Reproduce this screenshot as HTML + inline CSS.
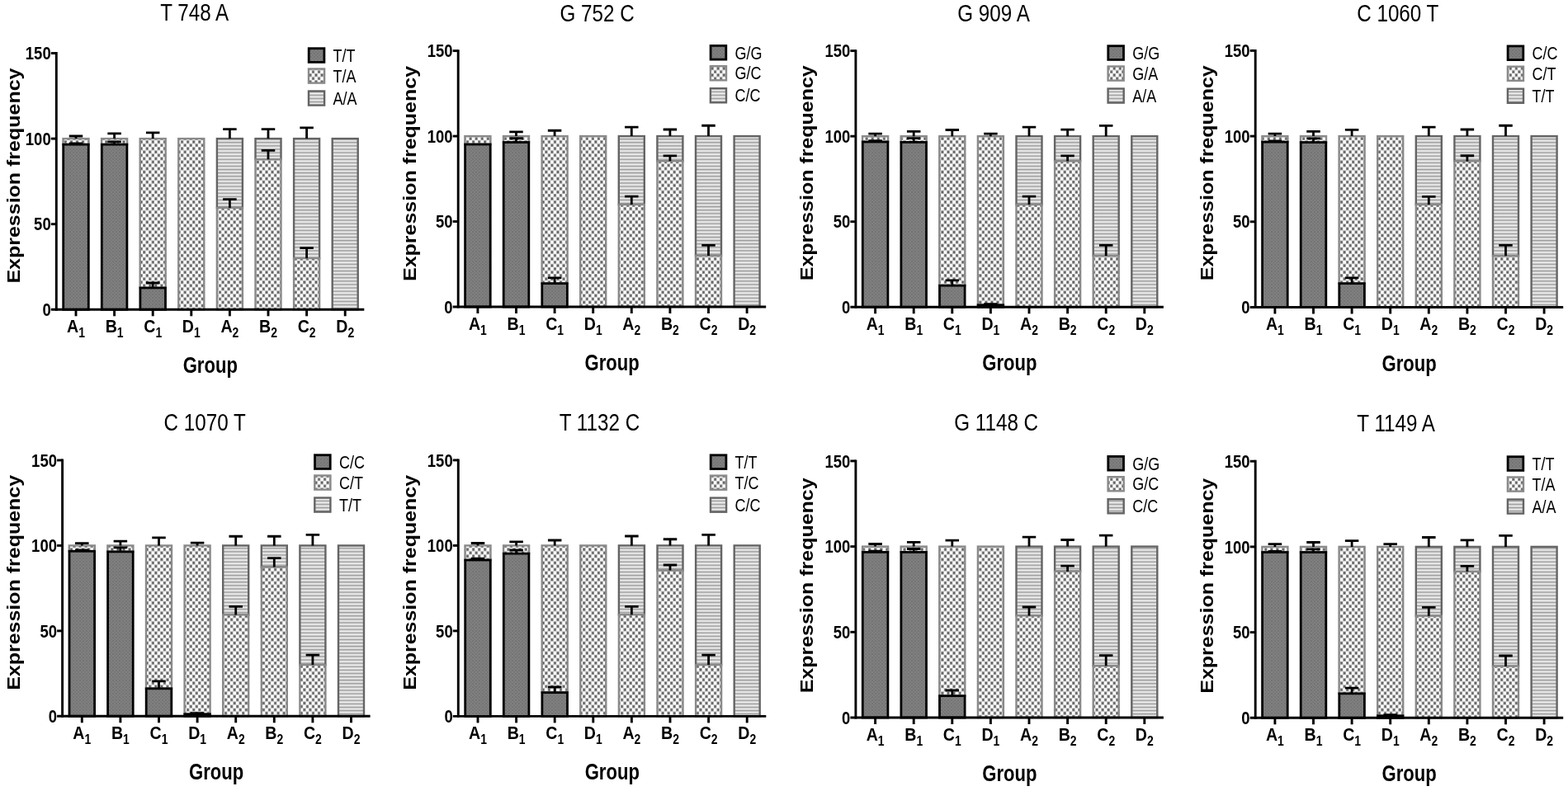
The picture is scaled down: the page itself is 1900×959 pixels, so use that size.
<!DOCTYPE html>
<html><head><meta charset="utf-8"><title>Genotype expression frequency</title>
<style>
html,body{margin:0;padding:0;background:#fff;overflow:hidden;}
svg{display:block;}
text{font-family:"Liberation Sans",Arial,sans-serif;fill:#000;}
</style></head><body>
<svg width="1900" height="959" viewBox="0 0 1900 959">
<rect width="1900" height="959" fill="#fff"/>
<defs>
<pattern id="pd" patternUnits="userSpaceOnUse" width="4" height="4">
<rect width="4" height="4" fill="#808080"/><rect width="2" height="2" fill="#747474"/><rect x="2" y="2" width="2" height="2" fill="#787878"/>
</pattern>
<pattern id="pc" patternUnits="userSpaceOnUse" width="7.06" height="8.1">
<rect width="7.06" height="8.1" fill="#fff"/>
<rect x="0" y="0" width="3.53" height="4.05" fill="#a4a4a4"/><rect x="3.53" y="4.05" width="3.53" height="4.05" fill="#a4a4a4"/>
<rect x="0.65" y="0.72" width="2.23" height="2.6" rx="0.6" fill="#5e5e5e"/><rect x="4.18" y="4.77" width="2.23" height="2.6" rx="0.6" fill="#5e5e5e"/>
</pattern>
<pattern id="ps" patternUnits="userSpaceOnUse" width="8" height="4.1">
<rect width="8" height="4.1" fill="#cbcbcb"/><rect y="0" width="8" height="1.1" fill="#9e9e9e"/><rect y="2.0" width="8" height="1.3" fill="#f0f0f0"/>
</pattern>
</defs>
<rect x="76.5" y="168.1" width="31" height="7.04" fill="url(#pc)" stroke="#8a8a8a" stroke-width="2.4"/>
<rect x="76.7" y="175.14" width="30.6" height="200.16" fill="url(#pd)" stroke="#000" stroke-width="2.8"/>
<path d="M92 175.14V173.9M83.75 173.9H100.25" stroke="#000" stroke-width="2.8" fill="none"/>
<path d="M92 168.1V164.99M83.75 164.99H100.25" stroke="#000" stroke-width="2.8" fill="none"/>
<rect x="123.1" y="168.1" width="31" height="7.04" fill="url(#pc)" stroke="#8a8a8a" stroke-width="2.4"/>
<rect x="123.3" y="175.14" width="30.6" height="200.16" fill="url(#pd)" stroke="#000" stroke-width="2.8"/>
<path d="M138.6 175.14V171.83M130.35 171.83H146.85" stroke="#000" stroke-width="2.8" fill="none"/>
<path d="M138.6 168.1V161.88M130.35 161.88H146.85" stroke="#000" stroke-width="2.8" fill="none"/>
<rect x="169.7" y="168.1" width="31" height="180.89" fill="url(#pc)" stroke="#8a8a8a" stroke-width="2.4"/>
<rect x="169.9" y="348.99" width="30.6" height="26.31" fill="url(#pd)" stroke="#000" stroke-width="2.8"/>
<path d="M185.2 348.99V342.98M176.95 342.98H193.45" stroke="#000" stroke-width="2.8" fill="none"/>
<path d="M185.2 168.1V160.85M176.95 160.85H193.45" stroke="#000" stroke-width="2.8" fill="none"/>
<rect x="216.3" y="168.1" width="31" height="207.2" fill="url(#pc)" stroke="#8a8a8a" stroke-width="2.4"/>
<rect x="262.9" y="168.1" width="31" height="83.92" fill="url(#ps)" stroke="#646464" stroke-width="2.4"/>
<rect x="262.9" y="252.02" width="31" height="123.28" fill="url(#pc)" stroke="#8a8a8a" stroke-width="2.4"/>
<path d="M278.4 252.02V241.66M270.15 241.66H286.65" stroke="#000" stroke-width="2.8" fill="none"/>
<path d="M278.4 168.1V156.7M270.15 156.7H286.65" stroke="#000" stroke-width="2.8" fill="none"/>
<rect x="309.5" y="168.1" width="31" height="25.07" fill="url(#ps)" stroke="#646464" stroke-width="2.4"/>
<rect x="309.5" y="193.17" width="31" height="182.13" fill="url(#pc)" stroke="#8a8a8a" stroke-width="2.4"/>
<path d="M325 193.17V182.4M316.75 182.4H333.25" stroke="#000" stroke-width="2.8" fill="none"/>
<path d="M325 168.1V156.7M316.75 156.7H333.25" stroke="#000" stroke-width="2.8" fill="none"/>
<rect x="356.1" y="168.1" width="31" height="145.04" fill="url(#ps)" stroke="#646464" stroke-width="2.4"/>
<rect x="356.1" y="313.14" width="31" height="62.16" fill="url(#pc)" stroke="#8a8a8a" stroke-width="2.4"/>
<path d="M371.6 313.14V300.71M363.35 300.71H379.85" stroke="#000" stroke-width="2.8" fill="none"/>
<path d="M371.6 168.1V154.84M363.35 154.84H379.85" stroke="#000" stroke-width="2.8" fill="none"/>
<rect x="402.7" y="168.1" width="31" height="207.2" fill="url(#ps)" stroke="#646464" stroke-width="2.4"/>
<path d="M61.8 375.3H441.3" stroke="#000" stroke-width="2.9" fill="none"/>
<path d="M68.3 376.75V63.05" stroke="#000" stroke-width="2.9" fill="none"/>
<path d="M61.8 271.7H68.3" stroke="#000" stroke-width="2.9" fill="none"/>
<path d="M61.8 168.1H68.3" stroke="#000" stroke-width="2.9" fill="none"/>
<path d="M61.8 64.5H68.3" stroke="#000" stroke-width="2.9" fill="none"/>
<path d="M92 375.3V383.3" stroke="#000" stroke-width="2.9" fill="none"/>
<path d="M138.6 375.3V383.3" stroke="#000" stroke-width="2.9" fill="none"/>
<path d="M185.2 375.3V383.3" stroke="#000" stroke-width="2.9" fill="none"/>
<path d="M231.8 375.3V383.3" stroke="#000" stroke-width="2.9" fill="none"/>
<path d="M278.4 375.3V383.3" stroke="#000" stroke-width="2.9" fill="none"/>
<path d="M325 375.3V383.3" stroke="#000" stroke-width="2.9" fill="none"/>
<path d="M371.6 375.3V383.3" stroke="#000" stroke-width="2.9" fill="none"/>
<path d="M418.2 375.3V383.3" stroke="#000" stroke-width="2.9" fill="none"/>
<text transform="translate(61.7 382.94) scale(0.835 1)" font-size="22.2" font-weight="bold" text-anchor="end">0</text>
<text transform="translate(61.7 279.34) scale(0.835 1)" font-size="22.2" font-weight="bold" text-anchor="end">50</text>
<text transform="translate(61.7 175.74) scale(0.835 1)" font-size="22.2" font-weight="bold" text-anchor="end">100</text>
<text transform="translate(61.7 72.14) scale(0.835 1)" font-size="22.2" font-weight="bold" text-anchor="end">150</text>
<text transform="translate(92 403.2) scale(0.87 1)" font-size="22.5" font-weight="bold" text-anchor="middle">A<tspan font-size="16.0" dy="5.8">1</tspan></text>
<text transform="translate(138.6 403.2) scale(0.87 1)" font-size="22.5" font-weight="bold" text-anchor="middle">B<tspan font-size="16.0" dy="5.8">1</tspan></text>
<text transform="translate(185.2 403.2) scale(0.87 1)" font-size="22.5" font-weight="bold" text-anchor="middle">C<tspan font-size="16.0" dy="5.8">1</tspan></text>
<text transform="translate(231.8 403.2) scale(0.87 1)" font-size="22.5" font-weight="bold" text-anchor="middle">D<tspan font-size="16.0" dy="5.8">1</tspan></text>
<text transform="translate(278.4 403.2) scale(0.87 1)" font-size="22.5" font-weight="bold" text-anchor="middle">A<tspan font-size="16.0" dy="5.8">2</tspan></text>
<text transform="translate(325 403.2) scale(0.87 1)" font-size="22.5" font-weight="bold" text-anchor="middle">B<tspan font-size="16.0" dy="5.8">2</tspan></text>
<text transform="translate(371.6 403.2) scale(0.87 1)" font-size="22.5" font-weight="bold" text-anchor="middle">C<tspan font-size="16.0" dy="5.8">2</tspan></text>
<text transform="translate(418.2 403.2) scale(0.87 1)" font-size="22.5" font-weight="bold" text-anchor="middle">D<tspan font-size="16.0" dy="5.8">2</tspan></text>
<text transform="translate(254.8 452.3) scale(0.818 1)" font-size="27.0" font-weight="bold" text-anchor="middle">Group</text>
<text transform="translate(24.1 213.05) rotate(-90) scale(1 0.88)" font-size="25.0" font-weight="bold" text-anchor="middle">Expression frequency</text>
<text transform="translate(235.75 25) scale(0.835 1)" font-size="29.0" font-weight="normal" text-anchor="middle">T 748 A</text>
<rect x="374.2" y="58.7" width="18.7" height="16.7" fill="url(#pd)" stroke="#000" stroke-width="2.8"/>
<text transform="translate(403.6 75) scale(0.8 1)" font-size="22.5" font-weight="normal" text-anchor="start">T/T</text>
<rect x="374" y="83.5" width="19.1" height="17.1" fill="url(#pc)" stroke="#8a8a8a" stroke-width="2.4"/>
<text transform="translate(403.6 99.6) scale(0.8 1)" font-size="22.5" font-weight="normal" text-anchor="start">T/A</text>
<rect x="374" y="110.5" width="19.1" height="17.1" fill="url(#ps)" stroke="#646464" stroke-width="2.4"/>
<text transform="translate(403.6 126.6) scale(0.8 1)" font-size="22.5" font-weight="normal" text-anchor="start">A/A</text>
<rect x="563.4" y="165.07" width="31" height="9.93" fill="url(#pc)" stroke="#8a8a8a" stroke-width="2.4"/>
<rect x="563.6" y="175" width="30.6" height="197" fill="url(#pd)" stroke="#000" stroke-width="2.8"/>
<rect x="610" y="165.07" width="31" height="7.45" fill="url(#pc)" stroke="#8a8a8a" stroke-width="2.4"/>
<rect x="610.2" y="172.52" width="30.6" height="199.48" fill="url(#pd)" stroke="#000" stroke-width="2.8"/>
<path d="M625.5 172.52V167.76M617.25 167.76H633.75" stroke="#000" stroke-width="2.8" fill="none"/>
<path d="M625.5 165.07V159.89M617.25 159.89H633.75" stroke="#000" stroke-width="2.8" fill="none"/>
<rect x="656.6" y="165.07" width="31" height="178.58" fill="url(#pc)" stroke="#8a8a8a" stroke-width="2.4"/>
<rect x="656.8" y="343.65" width="30.6" height="28.35" fill="url(#pd)" stroke="#000" stroke-width="2.8"/>
<path d="M672.1 343.65V336.82M663.85 336.82H680.35" stroke="#000" stroke-width="2.8" fill="none"/>
<path d="M672.1 165.07V158.24M663.85 158.24H680.35" stroke="#000" stroke-width="2.8" fill="none"/>
<rect x="703.2" y="165.07" width="31" height="206.93" fill="url(#pc)" stroke="#8a8a8a" stroke-width="2.4"/>
<rect x="749.8" y="165.07" width="31" height="82.98" fill="url(#ps)" stroke="#646464" stroke-width="2.4"/>
<rect x="749.8" y="248.05" width="31" height="123.95" fill="url(#pc)" stroke="#8a8a8a" stroke-width="2.4"/>
<path d="M765.3 248.05V238.11M757.05 238.11H773.55" stroke="#000" stroke-width="2.8" fill="none"/>
<path d="M765.3 165.07V154.1M757.05 154.1H773.55" stroke="#000" stroke-width="2.8" fill="none"/>
<rect x="796.4" y="165.07" width="31" height="30.21" fill="url(#ps)" stroke="#646464" stroke-width="2.4"/>
<rect x="796.4" y="195.28" width="31" height="176.72" fill="url(#pc)" stroke="#8a8a8a" stroke-width="2.4"/>
<path d="M811.9 195.28V188.86M803.65 188.86H820.15" stroke="#000" stroke-width="2.8" fill="none"/>
<path d="M811.9 165.07V157M803.65 157H820.15" stroke="#000" stroke-width="2.8" fill="none"/>
<rect x="843" y="165.07" width="31" height="144.85" fill="url(#ps)" stroke="#646464" stroke-width="2.4"/>
<rect x="843" y="309.92" width="31" height="62.08" fill="url(#pc)" stroke="#8a8a8a" stroke-width="2.4"/>
<path d="M858.5 309.92V297.3M850.25 297.3H866.75" stroke="#000" stroke-width="2.8" fill="none"/>
<path d="M858.5 165.07V152.24M850.25 152.24H866.75" stroke="#000" stroke-width="2.8" fill="none"/>
<rect x="889.6" y="165.07" width="31" height="206.93" fill="url(#ps)" stroke="#646464" stroke-width="2.4"/>
<path d="M548.7 372H928.2" stroke="#000" stroke-width="2.9" fill="none"/>
<path d="M555.2 373.45V60.15" stroke="#000" stroke-width="2.9" fill="none"/>
<path d="M548.7 268.53H555.2" stroke="#000" stroke-width="2.9" fill="none"/>
<path d="M548.7 165.07H555.2" stroke="#000" stroke-width="2.9" fill="none"/>
<path d="M548.7 61.6H555.2" stroke="#000" stroke-width="2.9" fill="none"/>
<path d="M578.9 372V380" stroke="#000" stroke-width="2.9" fill="none"/>
<path d="M625.5 372V380" stroke="#000" stroke-width="2.9" fill="none"/>
<path d="M672.1 372V380" stroke="#000" stroke-width="2.9" fill="none"/>
<path d="M718.7 372V380" stroke="#000" stroke-width="2.9" fill="none"/>
<path d="M765.3 372V380" stroke="#000" stroke-width="2.9" fill="none"/>
<path d="M811.9 372V380" stroke="#000" stroke-width="2.9" fill="none"/>
<path d="M858.5 372V380" stroke="#000" stroke-width="2.9" fill="none"/>
<path d="M905.1 372V380" stroke="#000" stroke-width="2.9" fill="none"/>
<text transform="translate(548.6 379.64) scale(0.835 1)" font-size="22.2" font-weight="bold" text-anchor="end">0</text>
<text transform="translate(548.6 276.17) scale(0.835 1)" font-size="22.2" font-weight="bold" text-anchor="end">50</text>
<text transform="translate(548.6 172.7) scale(0.835 1)" font-size="22.2" font-weight="bold" text-anchor="end">100</text>
<text transform="translate(548.6 69.24) scale(0.835 1)" font-size="22.2" font-weight="bold" text-anchor="end">150</text>
<text transform="translate(578.9 399.9) scale(0.87 1)" font-size="22.5" font-weight="bold" text-anchor="middle">A<tspan font-size="16.0" dy="5.8">1</tspan></text>
<text transform="translate(625.5 399.9) scale(0.87 1)" font-size="22.5" font-weight="bold" text-anchor="middle">B<tspan font-size="16.0" dy="5.8">1</tspan></text>
<text transform="translate(672.1 399.9) scale(0.87 1)" font-size="22.5" font-weight="bold" text-anchor="middle">C<tspan font-size="16.0" dy="5.8">1</tspan></text>
<text transform="translate(718.7 399.9) scale(0.87 1)" font-size="22.5" font-weight="bold" text-anchor="middle">D<tspan font-size="16.0" dy="5.8">1</tspan></text>
<text transform="translate(765.3 399.9) scale(0.87 1)" font-size="22.5" font-weight="bold" text-anchor="middle">A<tspan font-size="16.0" dy="5.8">2</tspan></text>
<text transform="translate(811.9 399.9) scale(0.87 1)" font-size="22.5" font-weight="bold" text-anchor="middle">B<tspan font-size="16.0" dy="5.8">2</tspan></text>
<text transform="translate(858.5 399.9) scale(0.87 1)" font-size="22.5" font-weight="bold" text-anchor="middle">C<tspan font-size="16.0" dy="5.8">2</tspan></text>
<text transform="translate(905.1 399.9) scale(0.87 1)" font-size="22.5" font-weight="bold" text-anchor="middle">D<tspan font-size="16.0" dy="5.8">2</tspan></text>
<text transform="translate(741.7 449) scale(0.818 1)" font-size="27.0" font-weight="bold" text-anchor="middle">Group</text>
<text transform="translate(503.6 210.45) rotate(-90) scale(1 0.88)" font-size="25.0" font-weight="bold" text-anchor="middle">Expression frequency</text>
<text transform="translate(723.6 25.9) scale(0.835 1)" font-size="29.0" font-weight="normal" text-anchor="middle">G 752 C</text>
<rect x="861.1" y="55.4" width="18.7" height="16.7" fill="url(#pd)" stroke="#000" stroke-width="2.8"/>
<text transform="translate(890.5 71.7) scale(0.8 1)" font-size="22.5" font-weight="normal" text-anchor="start">G/G</text>
<rect x="860.9" y="80.2" width="19.1" height="17.1" fill="url(#pc)" stroke="#8a8a8a" stroke-width="2.4"/>
<text transform="translate(890.5 96.3) scale(0.8 1)" font-size="22.5" font-weight="normal" text-anchor="start">G/C</text>
<rect x="860.9" y="107.2" width="19.1" height="17.1" fill="url(#ps)" stroke="#646464" stroke-width="2.4"/>
<text transform="translate(890.5 123.3) scale(0.8 1)" font-size="22.5" font-weight="normal" text-anchor="start">C/C</text>
<rect x="1045.1" y="165.17" width="31" height="6.84" fill="url(#pc)" stroke="#8a8a8a" stroke-width="2.4"/>
<rect x="1045.3" y="172" width="30.6" height="200.3" fill="url(#pd)" stroke="#000" stroke-width="2.8"/>
<path d="M1060.6 172V170.76M1052.35 170.76H1068.85" stroke="#000" stroke-width="2.8" fill="none"/>
<path d="M1060.6 165.17V162.06M1052.35 162.06H1068.85" stroke="#000" stroke-width="2.8" fill="none"/>
<rect x="1091.7" y="165.17" width="31" height="7.25" fill="url(#pc)" stroke="#8a8a8a" stroke-width="2.4"/>
<rect x="1091.9" y="172.42" width="30.6" height="199.88" fill="url(#pd)" stroke="#000" stroke-width="2.8"/>
<path d="M1107.2 172.42V167.65M1098.95 167.65H1115.45" stroke="#000" stroke-width="2.8" fill="none"/>
<path d="M1107.2 165.17V159.37M1098.95 159.37H1115.45" stroke="#000" stroke-width="2.8" fill="none"/>
<rect x="1138.3" y="165.17" width="31" height="181.03" fill="url(#pc)" stroke="#8a8a8a" stroke-width="2.4"/>
<rect x="1138.5" y="346.2" width="30.6" height="26.1" fill="url(#pd)" stroke="#000" stroke-width="2.8"/>
<path d="M1153.8 346.2V339.78M1145.55 339.78H1162.05" stroke="#000" stroke-width="2.8" fill="none"/>
<path d="M1153.8 165.17V157.5M1145.55 157.5H1162.05" stroke="#000" stroke-width="2.8" fill="none"/>
<rect x="1184.9" y="165.17" width="31" height="204.65" fill="url(#pc)" stroke="#8a8a8a" stroke-width="2.4"/>
<rect x="1185.1" y="369.81" width="30.6" height="2.49" fill="url(#pd)" stroke="#000" stroke-width="2.8"/>
<path d="M1200.4 369.81V368.57M1192.15 368.57H1208.65" stroke="#000" stroke-width="2.8" fill="none"/>
<path d="M1200.4 165.17V162.06M1192.15 162.06H1208.65" stroke="#000" stroke-width="2.8" fill="none"/>
<rect x="1231.5" y="165.17" width="31" height="82.85" fill="url(#ps)" stroke="#646464" stroke-width="2.4"/>
<rect x="1231.5" y="248.02" width="31" height="124.28" fill="url(#pc)" stroke="#8a8a8a" stroke-width="2.4"/>
<path d="M1247 248.02V238.08M1238.75 238.08H1255.25" stroke="#000" stroke-width="2.8" fill="none"/>
<path d="M1247 165.17V154.19M1238.75 154.19H1255.25" stroke="#000" stroke-width="2.8" fill="none"/>
<rect x="1278.1" y="165.17" width="31" height="30.24" fill="url(#ps)" stroke="#646464" stroke-width="2.4"/>
<rect x="1278.1" y="195.41" width="31" height="176.89" fill="url(#pc)" stroke="#8a8a8a" stroke-width="2.4"/>
<path d="M1293.6 195.41V188.78M1285.35 188.78H1301.85" stroke="#000" stroke-width="2.8" fill="none"/>
<path d="M1293.6 165.17V157.09M1285.35 157.09H1301.85" stroke="#000" stroke-width="2.8" fill="none"/>
<rect x="1324.7" y="165.17" width="31" height="144.99" fill="url(#ps)" stroke="#646464" stroke-width="2.4"/>
<rect x="1324.7" y="310.16" width="31" height="62.14" fill="url(#pc)" stroke="#8a8a8a" stroke-width="2.4"/>
<path d="M1340.2 310.16V297.32M1331.95 297.32H1348.45" stroke="#000" stroke-width="2.8" fill="none"/>
<path d="M1340.2 165.17V152.32M1331.95 152.32H1348.45" stroke="#000" stroke-width="2.8" fill="none"/>
<rect x="1371.3" y="165.17" width="31" height="207.13" fill="url(#ps)" stroke="#646464" stroke-width="2.4"/>
<path d="M1030.4 372.3H1409.9" stroke="#000" stroke-width="2.9" fill="none"/>
<path d="M1036.9 373.75V60.15" stroke="#000" stroke-width="2.9" fill="none"/>
<path d="M1030.4 268.73H1036.9" stroke="#000" stroke-width="2.9" fill="none"/>
<path d="M1030.4 165.17H1036.9" stroke="#000" stroke-width="2.9" fill="none"/>
<path d="M1030.4 61.6H1036.9" stroke="#000" stroke-width="2.9" fill="none"/>
<path d="M1060.6 372.3V380.3" stroke="#000" stroke-width="2.9" fill="none"/>
<path d="M1107.2 372.3V380.3" stroke="#000" stroke-width="2.9" fill="none"/>
<path d="M1153.8 372.3V380.3" stroke="#000" stroke-width="2.9" fill="none"/>
<path d="M1200.4 372.3V380.3" stroke="#000" stroke-width="2.9" fill="none"/>
<path d="M1247 372.3V380.3" stroke="#000" stroke-width="2.9" fill="none"/>
<path d="M1293.6 372.3V380.3" stroke="#000" stroke-width="2.9" fill="none"/>
<path d="M1340.2 372.3V380.3" stroke="#000" stroke-width="2.9" fill="none"/>
<path d="M1386.8 372.3V380.3" stroke="#000" stroke-width="2.9" fill="none"/>
<text transform="translate(1030.3 379.94) scale(0.835 1)" font-size="22.2" font-weight="bold" text-anchor="end">0</text>
<text transform="translate(1030.3 276.37) scale(0.835 1)" font-size="22.2" font-weight="bold" text-anchor="end">50</text>
<text transform="translate(1030.3 172.8) scale(0.835 1)" font-size="22.2" font-weight="bold" text-anchor="end">100</text>
<text transform="translate(1030.3 69.24) scale(0.835 1)" font-size="22.2" font-weight="bold" text-anchor="end">150</text>
<text transform="translate(1060.6 400.2) scale(0.87 1)" font-size="22.5" font-weight="bold" text-anchor="middle">A<tspan font-size="16.0" dy="5.8">1</tspan></text>
<text transform="translate(1107.2 400.2) scale(0.87 1)" font-size="22.5" font-weight="bold" text-anchor="middle">B<tspan font-size="16.0" dy="5.8">1</tspan></text>
<text transform="translate(1153.8 400.2) scale(0.87 1)" font-size="22.5" font-weight="bold" text-anchor="middle">C<tspan font-size="16.0" dy="5.8">1</tspan></text>
<text transform="translate(1200.4 400.2) scale(0.87 1)" font-size="22.5" font-weight="bold" text-anchor="middle">D<tspan font-size="16.0" dy="5.8">1</tspan></text>
<text transform="translate(1247 400.2) scale(0.87 1)" font-size="22.5" font-weight="bold" text-anchor="middle">A<tspan font-size="16.0" dy="5.8">2</tspan></text>
<text transform="translate(1293.6 400.2) scale(0.87 1)" font-size="22.5" font-weight="bold" text-anchor="middle">B<tspan font-size="16.0" dy="5.8">2</tspan></text>
<text transform="translate(1340.2 400.2) scale(0.87 1)" font-size="22.5" font-weight="bold" text-anchor="middle">C<tspan font-size="16.0" dy="5.8">2</tspan></text>
<text transform="translate(1386.8 400.2) scale(0.87 1)" font-size="22.5" font-weight="bold" text-anchor="middle">D<tspan font-size="16.0" dy="5.8">2</tspan></text>
<text transform="translate(1223.4 449.3) scale(0.818 1)" font-size="27.0" font-weight="bold" text-anchor="middle">Group</text>
<text transform="translate(985.4 209.75) rotate(-90) scale(1 0.88)" font-size="25.0" font-weight="bold" text-anchor="middle">Expression frequency</text>
<text transform="translate(1204.05 25.9) scale(0.835 1)" font-size="29.0" font-weight="normal" text-anchor="middle">G 909 A</text>
<rect x="1342.8" y="55.7" width="18.7" height="16.7" fill="url(#pd)" stroke="#000" stroke-width="2.8"/>
<text transform="translate(1372.2 72) scale(0.8 1)" font-size="22.5" font-weight="normal" text-anchor="start">G/G</text>
<rect x="1342.6" y="80.5" width="19.1" height="17.1" fill="url(#pc)" stroke="#8a8a8a" stroke-width="2.4"/>
<text transform="translate(1372.2 96.6) scale(0.8 1)" font-size="22.5" font-weight="normal" text-anchor="start">G/A</text>
<rect x="1342.6" y="107.5" width="19.1" height="17.1" fill="url(#ps)" stroke="#646464" stroke-width="2.4"/>
<text transform="translate(1372.2 123.6) scale(0.8 1)" font-size="22.5" font-weight="normal" text-anchor="start">A/A</text>
<rect x="1529.4" y="165.1" width="31" height="7.05" fill="url(#pc)" stroke="#8a8a8a" stroke-width="2.4"/>
<rect x="1529.6" y="172.15" width="30.6" height="200.35" fill="url(#pd)" stroke="#000" stroke-width="2.8"/>
<path d="M1544.9 172.15V170.91M1536.65 170.91H1553.15" stroke="#000" stroke-width="2.8" fill="none"/>
<path d="M1544.9 165.1V162.2M1536.65 162.2H1553.15" stroke="#000" stroke-width="2.8" fill="none"/>
<rect x="1576" y="165.1" width="31" height="7.47" fill="url(#pc)" stroke="#8a8a8a" stroke-width="2.4"/>
<rect x="1576.2" y="172.57" width="30.6" height="199.93" fill="url(#pd)" stroke="#000" stroke-width="2.8"/>
<path d="M1591.5 172.57V167.8M1583.25 167.8H1599.75" stroke="#000" stroke-width="2.8" fill="none"/>
<path d="M1591.5 165.1V159.29M1583.25 159.29H1599.75" stroke="#000" stroke-width="2.8" fill="none"/>
<rect x="1622.6" y="165.1" width="31" height="178.57" fill="url(#pc)" stroke="#8a8a8a" stroke-width="2.4"/>
<rect x="1622.8" y="343.67" width="30.6" height="28.83" fill="url(#pd)" stroke="#000" stroke-width="2.8"/>
<path d="M1638.1 343.67V336.83M1629.85 336.83H1646.35" stroke="#000" stroke-width="2.8" fill="none"/>
<path d="M1638.1 165.1V157.43M1629.85 157.43H1646.35" stroke="#000" stroke-width="2.8" fill="none"/>
<rect x="1669.2" y="165.1" width="31" height="207.4" fill="url(#pc)" stroke="#8a8a8a" stroke-width="2.4"/>
<rect x="1715.8" y="165.1" width="31" height="82.96" fill="url(#ps)" stroke="#646464" stroke-width="2.4"/>
<rect x="1715.8" y="248.06" width="31" height="124.44" fill="url(#pc)" stroke="#8a8a8a" stroke-width="2.4"/>
<path d="M1731.3 248.06V238.31M1723.05 238.31H1739.55" stroke="#000" stroke-width="2.8" fill="none"/>
<path d="M1731.3 165.1V154.11M1723.05 154.11H1739.55" stroke="#000" stroke-width="2.8" fill="none"/>
<rect x="1762.4" y="165.1" width="31" height="30.28" fill="url(#ps)" stroke="#646464" stroke-width="2.4"/>
<rect x="1762.4" y="195.38" width="31" height="177.12" fill="url(#pc)" stroke="#8a8a8a" stroke-width="2.4"/>
<path d="M1777.9 195.38V188.74M1769.65 188.74H1786.15" stroke="#000" stroke-width="2.8" fill="none"/>
<path d="M1777.9 165.1V157.01M1769.65 157.01H1786.15" stroke="#000" stroke-width="2.8" fill="none"/>
<rect x="1809" y="165.1" width="31" height="145.18" fill="url(#ps)" stroke="#646464" stroke-width="2.4"/>
<rect x="1809" y="310.28" width="31" height="62.22" fill="url(#pc)" stroke="#8a8a8a" stroke-width="2.4"/>
<path d="M1824.5 310.28V297.42M1816.25 297.42H1832.75" stroke="#000" stroke-width="2.8" fill="none"/>
<path d="M1824.5 165.1V152.24M1816.25 152.24H1832.75" stroke="#000" stroke-width="2.8" fill="none"/>
<rect x="1855.6" y="165.1" width="31" height="207.4" fill="url(#ps)" stroke="#646464" stroke-width="2.4"/>
<path d="M1514.7 372.5H1894.2" stroke="#000" stroke-width="2.9" fill="none"/>
<path d="M1521.2 373.95V59.95" stroke="#000" stroke-width="2.9" fill="none"/>
<path d="M1514.7 268.8H1521.2" stroke="#000" stroke-width="2.9" fill="none"/>
<path d="M1514.7 165.1H1521.2" stroke="#000" stroke-width="2.9" fill="none"/>
<path d="M1514.7 61.4H1521.2" stroke="#000" stroke-width="2.9" fill="none"/>
<path d="M1544.9 372.5V380.5" stroke="#000" stroke-width="2.9" fill="none"/>
<path d="M1591.5 372.5V380.5" stroke="#000" stroke-width="2.9" fill="none"/>
<path d="M1638.1 372.5V380.5" stroke="#000" stroke-width="2.9" fill="none"/>
<path d="M1684.7 372.5V380.5" stroke="#000" stroke-width="2.9" fill="none"/>
<path d="M1731.3 372.5V380.5" stroke="#000" stroke-width="2.9" fill="none"/>
<path d="M1777.9 372.5V380.5" stroke="#000" stroke-width="2.9" fill="none"/>
<path d="M1824.5 372.5V380.5" stroke="#000" stroke-width="2.9" fill="none"/>
<path d="M1871.1 372.5V380.5" stroke="#000" stroke-width="2.9" fill="none"/>
<text transform="translate(1514.6 380.14) scale(0.835 1)" font-size="22.2" font-weight="bold" text-anchor="end">0</text>
<text transform="translate(1514.6 276.44) scale(0.835 1)" font-size="22.2" font-weight="bold" text-anchor="end">50</text>
<text transform="translate(1514.6 172.74) scale(0.835 1)" font-size="22.2" font-weight="bold" text-anchor="end">100</text>
<text transform="translate(1514.6 69.04) scale(0.835 1)" font-size="22.2" font-weight="bold" text-anchor="end">150</text>
<text transform="translate(1544.9 400.4) scale(0.87 1)" font-size="22.5" font-weight="bold" text-anchor="middle">A<tspan font-size="16.0" dy="5.8">1</tspan></text>
<text transform="translate(1591.5 400.4) scale(0.87 1)" font-size="22.5" font-weight="bold" text-anchor="middle">B<tspan font-size="16.0" dy="5.8">1</tspan></text>
<text transform="translate(1638.1 400.4) scale(0.87 1)" font-size="22.5" font-weight="bold" text-anchor="middle">C<tspan font-size="16.0" dy="5.8">1</tspan></text>
<text transform="translate(1684.7 400.4) scale(0.87 1)" font-size="22.5" font-weight="bold" text-anchor="middle">D<tspan font-size="16.0" dy="5.8">1</tspan></text>
<text transform="translate(1731.3 400.4) scale(0.87 1)" font-size="22.5" font-weight="bold" text-anchor="middle">A<tspan font-size="16.0" dy="5.8">2</tspan></text>
<text transform="translate(1777.9 400.4) scale(0.87 1)" font-size="22.5" font-weight="bold" text-anchor="middle">B<tspan font-size="16.0" dy="5.8">2</tspan></text>
<text transform="translate(1824.5 400.4) scale(0.87 1)" font-size="22.5" font-weight="bold" text-anchor="middle">C<tspan font-size="16.0" dy="5.8">2</tspan></text>
<text transform="translate(1871.1 400.4) scale(0.87 1)" font-size="22.5" font-weight="bold" text-anchor="middle">D<tspan font-size="16.0" dy="5.8">2</tspan></text>
<text transform="translate(1707.7 449.5) scale(0.818 1)" font-size="27.0" font-weight="bold" text-anchor="middle">Group</text>
<text transform="translate(1469.6 209.75) rotate(-90) scale(1 0.88)" font-size="25.0" font-weight="bold" text-anchor="middle">Expression frequency</text>
<text transform="translate(1693.8 25.9) scale(0.835 1)" font-size="29.0" font-weight="normal" text-anchor="middle">C 1060 T</text>
<rect x="1827.1" y="55.9" width="18.7" height="16.7" fill="url(#pd)" stroke="#000" stroke-width="2.8"/>
<text transform="translate(1856.5 72.2) scale(0.8 1)" font-size="22.5" font-weight="normal" text-anchor="start">C/C</text>
<rect x="1826.9" y="80.7" width="19.1" height="17.1" fill="url(#pc)" stroke="#8a8a8a" stroke-width="2.4"/>
<text transform="translate(1856.5 96.8) scale(0.8 1)" font-size="22.5" font-weight="normal" text-anchor="start">C/T</text>
<rect x="1826.9" y="107.7" width="19.1" height="17.1" fill="url(#ps)" stroke="#646464" stroke-width="2.4"/>
<text transform="translate(1856.5 123.8) scale(0.8 1)" font-size="22.5" font-weight="normal" text-anchor="start">T/T</text>
<rect x="83.8" y="661.43" width="31" height="6.83" fill="url(#pc)" stroke="#8a8a8a" stroke-width="2.4"/>
<rect x="84" y="668.26" width="30.6" height="200.04" fill="url(#pd)" stroke="#000" stroke-width="2.8"/>
<path d="M99.3 668.26V667.02M91.05 667.02H107.55" stroke="#000" stroke-width="2.8" fill="none"/>
<path d="M99.3 661.43V658.54M91.05 658.54H107.55" stroke="#000" stroke-width="2.8" fill="none"/>
<rect x="130.4" y="661.43" width="31" height="7.45" fill="url(#pc)" stroke="#8a8a8a" stroke-width="2.4"/>
<rect x="130.6" y="668.88" width="30.6" height="199.42" fill="url(#pd)" stroke="#000" stroke-width="2.8"/>
<path d="M145.9 668.88V663.92M137.65 663.92H154.15" stroke="#000" stroke-width="2.8" fill="none"/>
<path d="M145.9 661.43V656.05M137.65 656.05H154.15" stroke="#000" stroke-width="2.8" fill="none"/>
<rect x="177" y="661.43" width="31" height="173.35" fill="url(#pc)" stroke="#8a8a8a" stroke-width="2.4"/>
<rect x="177.2" y="834.79" width="30.6" height="33.51" fill="url(#pd)" stroke="#000" stroke-width="2.8"/>
<path d="M192.5 834.79V825.89M184.25 825.89H200.75" stroke="#000" stroke-width="2.8" fill="none"/>
<path d="M192.5 661.43V651.92M184.25 651.92H200.75" stroke="#000" stroke-width="2.8" fill="none"/>
<rect x="223.6" y="661.43" width="31" height="204.38" fill="url(#pc)" stroke="#8a8a8a" stroke-width="2.4"/>
<rect x="223.8" y="865.82" width="30.6" height="2.48" fill="url(#pd)" stroke="#000" stroke-width="2.8"/>
<path d="M239.1 865.82V864.58M230.85 864.58H247.35" stroke="#000" stroke-width="2.8" fill="none"/>
<path d="M239.1 661.43V658.12M230.85 658.12H247.35" stroke="#000" stroke-width="2.8" fill="none"/>
<rect x="270.2" y="661.43" width="31" height="83.99" fill="url(#ps)" stroke="#646464" stroke-width="2.4"/>
<rect x="270.2" y="745.42" width="31" height="122.88" fill="url(#pc)" stroke="#8a8a8a" stroke-width="2.4"/>
<path d="M285.7 745.42V735.28M277.45 735.28H293.95" stroke="#000" stroke-width="2.8" fill="none"/>
<path d="M285.7 661.43V650.26M277.45 650.26H293.95" stroke="#000" stroke-width="2.8" fill="none"/>
<rect x="316.8" y="661.43" width="31" height="26.07" fill="url(#ps)" stroke="#646464" stroke-width="2.4"/>
<rect x="316.8" y="687.5" width="31" height="180.8" fill="url(#pc)" stroke="#8a8a8a" stroke-width="2.4"/>
<path d="M332.3 687.5V676.53M324.05 676.53H340.55" stroke="#000" stroke-width="2.8" fill="none"/>
<path d="M332.3 661.43V650.26M324.05 650.26H340.55" stroke="#000" stroke-width="2.8" fill="none"/>
<rect x="363.4" y="661.43" width="31" height="144.6" fill="url(#ps)" stroke="#646464" stroke-width="2.4"/>
<rect x="363.4" y="806.03" width="31" height="62.27" fill="url(#pc)" stroke="#8a8a8a" stroke-width="2.4"/>
<path d="M378.9 806.03V794.03M370.65 794.03H387.15" stroke="#000" stroke-width="2.8" fill="none"/>
<path d="M378.9 661.43V648.4M370.65 648.4H387.15" stroke="#000" stroke-width="2.8" fill="none"/>
<rect x="410" y="661.43" width="31" height="206.87" fill="url(#ps)" stroke="#646464" stroke-width="2.4"/>
<path d="M69.1 868.3H448.6" stroke="#000" stroke-width="2.9" fill="none"/>
<path d="M75.6 869.75V556.55" stroke="#000" stroke-width="2.9" fill="none"/>
<path d="M69.1 764.87H75.6" stroke="#000" stroke-width="2.9" fill="none"/>
<path d="M69.1 661.43H75.6" stroke="#000" stroke-width="2.9" fill="none"/>
<path d="M69.1 558H75.6" stroke="#000" stroke-width="2.9" fill="none"/>
<path d="M99.3 868.3V876.3" stroke="#000" stroke-width="2.9" fill="none"/>
<path d="M145.9 868.3V876.3" stroke="#000" stroke-width="2.9" fill="none"/>
<path d="M192.5 868.3V876.3" stroke="#000" stroke-width="2.9" fill="none"/>
<path d="M239.1 868.3V876.3" stroke="#000" stroke-width="2.9" fill="none"/>
<path d="M285.7 868.3V876.3" stroke="#000" stroke-width="2.9" fill="none"/>
<path d="M332.3 868.3V876.3" stroke="#000" stroke-width="2.9" fill="none"/>
<path d="M378.9 868.3V876.3" stroke="#000" stroke-width="2.9" fill="none"/>
<path d="M425.5 868.3V876.3" stroke="#000" stroke-width="2.9" fill="none"/>
<text transform="translate(69 875.94) scale(0.835 1)" font-size="22.2" font-weight="bold" text-anchor="end">0</text>
<text transform="translate(69 772.5) scale(0.835 1)" font-size="22.2" font-weight="bold" text-anchor="end">50</text>
<text transform="translate(69 669.07) scale(0.835 1)" font-size="22.2" font-weight="bold" text-anchor="end">100</text>
<text transform="translate(69 565.64) scale(0.835 1)" font-size="22.2" font-weight="bold" text-anchor="end">150</text>
<text transform="translate(99.3 896.2) scale(0.87 1)" font-size="22.5" font-weight="bold" text-anchor="middle">A<tspan font-size="16.0" dy="5.8">1</tspan></text>
<text transform="translate(145.9 896.2) scale(0.87 1)" font-size="22.5" font-weight="bold" text-anchor="middle">B<tspan font-size="16.0" dy="5.8">1</tspan></text>
<text transform="translate(192.5 896.2) scale(0.87 1)" font-size="22.5" font-weight="bold" text-anchor="middle">C<tspan font-size="16.0" dy="5.8">1</tspan></text>
<text transform="translate(239.1 896.2) scale(0.87 1)" font-size="22.5" font-weight="bold" text-anchor="middle">D<tspan font-size="16.0" dy="5.8">1</tspan></text>
<text transform="translate(285.7 896.2) scale(0.87 1)" font-size="22.5" font-weight="bold" text-anchor="middle">A<tspan font-size="16.0" dy="5.8">2</tspan></text>
<text transform="translate(332.3 896.2) scale(0.87 1)" font-size="22.5" font-weight="bold" text-anchor="middle">B<tspan font-size="16.0" dy="5.8">2</tspan></text>
<text transform="translate(378.9 896.2) scale(0.87 1)" font-size="22.5" font-weight="bold" text-anchor="middle">C<tspan font-size="16.0" dy="5.8">2</tspan></text>
<text transform="translate(425.5 896.2) scale(0.87 1)" font-size="22.5" font-weight="bold" text-anchor="middle">D<tspan font-size="16.0" dy="5.8">2</tspan></text>
<text transform="translate(262.1 945.3) scale(0.818 1)" font-size="27.0" font-weight="bold" text-anchor="middle">Group</text>
<text transform="translate(24.1 706.35) rotate(-90) scale(1 0.88)" font-size="25.0" font-weight="bold" text-anchor="middle">Expression frequency</text>
<text transform="translate(248.1 522.1) scale(0.835 1)" font-size="29.0" font-weight="normal" text-anchor="middle">C 1070 T</text>
<rect x="381.5" y="551.7" width="18.7" height="16.7" fill="url(#pd)" stroke="#000" stroke-width="2.8"/>
<text transform="translate(410.9 568) scale(0.8 1)" font-size="22.5" font-weight="normal" text-anchor="start">C/C</text>
<rect x="381.3" y="576.5" width="19.1" height="17.1" fill="url(#pc)" stroke="#8a8a8a" stroke-width="2.4"/>
<text transform="translate(410.9 592.6) scale(0.8 1)" font-size="22.5" font-weight="normal" text-anchor="start">C/T</text>
<rect x="381.3" y="603.5" width="19.1" height="17.1" fill="url(#ps)" stroke="#646464" stroke-width="2.4"/>
<text transform="translate(410.9 619.6) scale(0.8 1)" font-size="22.5" font-weight="normal" text-anchor="start">T/T</text>
<rect x="563.5" y="661.4" width="31" height="17.6" fill="url(#pc)" stroke="#8a8a8a" stroke-width="2.4"/>
<rect x="563.7" y="679" width="30.6" height="189.4" fill="url(#pd)" stroke="#000" stroke-width="2.8"/>
<path d="M579 679V677.13M570.75 677.13H587.25" stroke="#000" stroke-width="2.8" fill="none"/>
<path d="M579 661.4V658.5M570.75 658.5H587.25" stroke="#000" stroke-width="2.8" fill="none"/>
<rect x="610.1" y="661.4" width="31" height="9.73" fill="url(#pc)" stroke="#8a8a8a" stroke-width="2.4"/>
<rect x="610.3" y="671.13" width="30.6" height="197.27" fill="url(#pd)" stroke="#000" stroke-width="2.8"/>
<path d="M625.6 671.13V666.99M617.35 666.99H633.85" stroke="#000" stroke-width="2.8" fill="none"/>
<path d="M625.6 661.4V656.85M617.35 656.85H633.85" stroke="#000" stroke-width="2.8" fill="none"/>
<rect x="656.7" y="661.4" width="31" height="178.23" fill="url(#pc)" stroke="#8a8a8a" stroke-width="2.4"/>
<rect x="656.9" y="839.63" width="30.6" height="28.77" fill="url(#pd)" stroke="#000" stroke-width="2.8"/>
<path d="M672.2 839.63V833M663.95 833H680.45" stroke="#000" stroke-width="2.8" fill="none"/>
<path d="M672.2 661.4V654.98M663.95 654.98H680.45" stroke="#000" stroke-width="2.8" fill="none"/>
<rect x="703.3" y="661.4" width="31" height="207" fill="url(#pc)" stroke="#8a8a8a" stroke-width="2.4"/>
<rect x="749.9" y="661.4" width="31" height="83.84" fill="url(#ps)" stroke="#646464" stroke-width="2.4"/>
<rect x="749.9" y="745.24" width="31" height="123.16" fill="url(#pc)" stroke="#8a8a8a" stroke-width="2.4"/>
<path d="M765.4 745.24V735.3M757.15 735.3H773.65" stroke="#000" stroke-width="2.8" fill="none"/>
<path d="M765.4 661.4V650.01M757.15 650.01H773.65" stroke="#000" stroke-width="2.8" fill="none"/>
<rect x="796.5" y="661.4" width="31" height="30.22" fill="url(#ps)" stroke="#646464" stroke-width="2.4"/>
<rect x="796.5" y="691.62" width="31" height="176.78" fill="url(#pc)" stroke="#8a8a8a" stroke-width="2.4"/>
<path d="M812 691.62V685M803.75 685H820.25" stroke="#000" stroke-width="2.8" fill="none"/>
<path d="M812 661.4V653.74M803.75 653.74H820.25" stroke="#000" stroke-width="2.8" fill="none"/>
<rect x="843.1" y="661.4" width="31" height="144.69" fill="url(#ps)" stroke="#646464" stroke-width="2.4"/>
<rect x="843.1" y="806.09" width="31" height="62.31" fill="url(#pc)" stroke="#8a8a8a" stroke-width="2.4"/>
<path d="M858.6 806.09V794.09M850.35 794.09H866.85" stroke="#000" stroke-width="2.8" fill="none"/>
<path d="M858.6 661.4V648.36M850.35 648.36H866.85" stroke="#000" stroke-width="2.8" fill="none"/>
<rect x="889.7" y="661.4" width="31" height="207" fill="url(#ps)" stroke="#646464" stroke-width="2.4"/>
<path d="M548.8 868.4H928.3" stroke="#000" stroke-width="2.9" fill="none"/>
<path d="M555.3 869.85V556.45" stroke="#000" stroke-width="2.9" fill="none"/>
<path d="M548.8 764.9H555.3" stroke="#000" stroke-width="2.9" fill="none"/>
<path d="M548.8 661.4H555.3" stroke="#000" stroke-width="2.9" fill="none"/>
<path d="M548.8 557.9H555.3" stroke="#000" stroke-width="2.9" fill="none"/>
<path d="M579 868.4V876.4" stroke="#000" stroke-width="2.9" fill="none"/>
<path d="M625.6 868.4V876.4" stroke="#000" stroke-width="2.9" fill="none"/>
<path d="M672.2 868.4V876.4" stroke="#000" stroke-width="2.9" fill="none"/>
<path d="M718.8 868.4V876.4" stroke="#000" stroke-width="2.9" fill="none"/>
<path d="M765.4 868.4V876.4" stroke="#000" stroke-width="2.9" fill="none"/>
<path d="M812 868.4V876.4" stroke="#000" stroke-width="2.9" fill="none"/>
<path d="M858.6 868.4V876.4" stroke="#000" stroke-width="2.9" fill="none"/>
<path d="M905.2 868.4V876.4" stroke="#000" stroke-width="2.9" fill="none"/>
<text transform="translate(548.7 876.04) scale(0.835 1)" font-size="22.2" font-weight="bold" text-anchor="end">0</text>
<text transform="translate(548.7 772.54) scale(0.835 1)" font-size="22.2" font-weight="bold" text-anchor="end">50</text>
<text transform="translate(548.7 669.04) scale(0.835 1)" font-size="22.2" font-weight="bold" text-anchor="end">100</text>
<text transform="translate(548.7 565.54) scale(0.835 1)" font-size="22.2" font-weight="bold" text-anchor="end">150</text>
<text transform="translate(579 896.3) scale(0.87 1)" font-size="22.5" font-weight="bold" text-anchor="middle">A<tspan font-size="16.0" dy="5.8">1</tspan></text>
<text transform="translate(625.6 896.3) scale(0.87 1)" font-size="22.5" font-weight="bold" text-anchor="middle">B<tspan font-size="16.0" dy="5.8">1</tspan></text>
<text transform="translate(672.2 896.3) scale(0.87 1)" font-size="22.5" font-weight="bold" text-anchor="middle">C<tspan font-size="16.0" dy="5.8">1</tspan></text>
<text transform="translate(718.8 896.3) scale(0.87 1)" font-size="22.5" font-weight="bold" text-anchor="middle">D<tspan font-size="16.0" dy="5.8">1</tspan></text>
<text transform="translate(765.4 896.3) scale(0.87 1)" font-size="22.5" font-weight="bold" text-anchor="middle">A<tspan font-size="16.0" dy="5.8">2</tspan></text>
<text transform="translate(812 896.3) scale(0.87 1)" font-size="22.5" font-weight="bold" text-anchor="middle">B<tspan font-size="16.0" dy="5.8">2</tspan></text>
<text transform="translate(858.6 896.3) scale(0.87 1)" font-size="22.5" font-weight="bold" text-anchor="middle">C<tspan font-size="16.0" dy="5.8">2</tspan></text>
<text transform="translate(905.2 896.3) scale(0.87 1)" font-size="22.5" font-weight="bold" text-anchor="middle">D<tspan font-size="16.0" dy="5.8">2</tspan></text>
<text transform="translate(741.8 945.4) scale(0.818 1)" font-size="27.0" font-weight="bold" text-anchor="middle">Group</text>
<text transform="translate(503.6 706.35) rotate(-90) scale(1 0.88)" font-size="25.0" font-weight="bold" text-anchor="middle">Expression frequency</text>
<text transform="translate(726.45 522.1) scale(0.835 1)" font-size="29.0" font-weight="normal" text-anchor="middle">T 1132 C</text>
<rect x="861.2" y="551.8" width="18.7" height="16.7" fill="url(#pd)" stroke="#000" stroke-width="2.8"/>
<text transform="translate(890.6 568.1) scale(0.8 1)" font-size="22.5" font-weight="normal" text-anchor="start">T/T</text>
<rect x="861" y="576.6" width="19.1" height="17.1" fill="url(#pc)" stroke="#8a8a8a" stroke-width="2.4"/>
<text transform="translate(890.6 592.7) scale(0.8 1)" font-size="22.5" font-weight="normal" text-anchor="start">T/C</text>
<rect x="861" y="603.6" width="19.1" height="17.1" fill="url(#ps)" stroke="#646464" stroke-width="2.4"/>
<text transform="translate(890.6 619.7) scale(0.8 1)" font-size="22.5" font-weight="normal" text-anchor="start">C/C</text>
<rect x="1045.1" y="662.6" width="31" height="6.84" fill="url(#pc)" stroke="#8a8a8a" stroke-width="2.4"/>
<rect x="1045.3" y="669.44" width="30.6" height="200.56" fill="url(#pd)" stroke="#000" stroke-width="2.8"/>
<path d="M1060.6 669.44V668.2M1052.35 668.2H1068.85" stroke="#000" stroke-width="2.8" fill="none"/>
<path d="M1060.6 662.6V659.49M1052.35 659.49H1068.85" stroke="#000" stroke-width="2.8" fill="none"/>
<rect x="1091.7" y="662.6" width="31" height="6.84" fill="url(#pc)" stroke="#8a8a8a" stroke-width="2.4"/>
<rect x="1091.9" y="669.44" width="30.6" height="200.56" fill="url(#pd)" stroke="#000" stroke-width="2.8"/>
<path d="M1107.2 669.44V665.5M1098.95 665.5H1115.45" stroke="#000" stroke-width="2.8" fill="none"/>
<path d="M1107.2 662.6V657.41M1098.95 657.41H1115.45" stroke="#000" stroke-width="2.8" fill="none"/>
<rect x="1138.3" y="662.6" width="31" height="181.06" fill="url(#pc)" stroke="#8a8a8a" stroke-width="2.4"/>
<rect x="1138.5" y="843.66" width="30.6" height="26.34" fill="url(#pd)" stroke="#000" stroke-width="2.8"/>
<path d="M1153.8 843.66V837.02M1145.55 837.02H1162.05" stroke="#000" stroke-width="2.8" fill="none"/>
<path d="M1153.8 662.6V655.13M1145.55 655.13H1162.05" stroke="#000" stroke-width="2.8" fill="none"/>
<rect x="1184.9" y="662.6" width="31" height="207.4" fill="url(#pc)" stroke="#8a8a8a" stroke-width="2.4"/>
<rect x="1231.5" y="662.6" width="31" height="83.79" fill="url(#ps)" stroke="#646464" stroke-width="2.4"/>
<rect x="1231.5" y="746.39" width="31" height="123.61" fill="url(#pc)" stroke="#8a8a8a" stroke-width="2.4"/>
<path d="M1247 746.39V736.02M1238.75 736.02H1255.25" stroke="#000" stroke-width="2.8" fill="none"/>
<path d="M1247 662.6V651.19M1238.75 651.19H1255.25" stroke="#000" stroke-width="2.8" fill="none"/>
<rect x="1278.1" y="662.6" width="31" height="30.07" fill="url(#ps)" stroke="#646464" stroke-width="2.4"/>
<rect x="1278.1" y="692.67" width="31" height="177.33" fill="url(#pc)" stroke="#8a8a8a" stroke-width="2.4"/>
<path d="M1293.6 692.67V686.04M1285.35 686.04H1301.85" stroke="#000" stroke-width="2.8" fill="none"/>
<path d="M1293.6 662.6V654.51M1285.35 654.51H1301.85" stroke="#000" stroke-width="2.8" fill="none"/>
<rect x="1324.7" y="662.6" width="31" height="144.77" fill="url(#ps)" stroke="#646464" stroke-width="2.4"/>
<rect x="1324.7" y="807.37" width="31" height="62.63" fill="url(#pc)" stroke="#8a8a8a" stroke-width="2.4"/>
<path d="M1340.2 807.37V794.71M1331.95 794.71H1348.45" stroke="#000" stroke-width="2.8" fill="none"/>
<path d="M1340.2 662.6V649.12M1331.95 649.12H1348.45" stroke="#000" stroke-width="2.8" fill="none"/>
<rect x="1371.3" y="662.6" width="31" height="207.4" fill="url(#ps)" stroke="#646464" stroke-width="2.4"/>
<path d="M1030.4 870H1409.9" stroke="#000" stroke-width="2.9" fill="none"/>
<path d="M1036.9 871.45V557.45" stroke="#000" stroke-width="2.9" fill="none"/>
<path d="M1030.4 766.3H1036.9" stroke="#000" stroke-width="2.9" fill="none"/>
<path d="M1030.4 662.6H1036.9" stroke="#000" stroke-width="2.9" fill="none"/>
<path d="M1030.4 558.9H1036.9" stroke="#000" stroke-width="2.9" fill="none"/>
<path d="M1060.6 870V878" stroke="#000" stroke-width="2.9" fill="none"/>
<path d="M1107.2 870V878" stroke="#000" stroke-width="2.9" fill="none"/>
<path d="M1153.8 870V878" stroke="#000" stroke-width="2.9" fill="none"/>
<path d="M1200.4 870V878" stroke="#000" stroke-width="2.9" fill="none"/>
<path d="M1247 870V878" stroke="#000" stroke-width="2.9" fill="none"/>
<path d="M1293.6 870V878" stroke="#000" stroke-width="2.9" fill="none"/>
<path d="M1340.2 870V878" stroke="#000" stroke-width="2.9" fill="none"/>
<path d="M1386.8 870V878" stroke="#000" stroke-width="2.9" fill="none"/>
<text transform="translate(1030.3 877.64) scale(0.835 1)" font-size="22.2" font-weight="bold" text-anchor="end">0</text>
<text transform="translate(1030.3 773.94) scale(0.835 1)" font-size="22.2" font-weight="bold" text-anchor="end">50</text>
<text transform="translate(1030.3 670.24) scale(0.835 1)" font-size="22.2" font-weight="bold" text-anchor="end">100</text>
<text transform="translate(1030.3 566.54) scale(0.835 1)" font-size="22.2" font-weight="bold" text-anchor="end">150</text>
<text transform="translate(1060.6 897.9) scale(0.87 1)" font-size="22.5" font-weight="bold" text-anchor="middle">A<tspan font-size="16.0" dy="5.8">1</tspan></text>
<text transform="translate(1107.2 897.9) scale(0.87 1)" font-size="22.5" font-weight="bold" text-anchor="middle">B<tspan font-size="16.0" dy="5.8">1</tspan></text>
<text transform="translate(1153.8 897.9) scale(0.87 1)" font-size="22.5" font-weight="bold" text-anchor="middle">C<tspan font-size="16.0" dy="5.8">1</tspan></text>
<text transform="translate(1200.4 897.9) scale(0.87 1)" font-size="22.5" font-weight="bold" text-anchor="middle">D<tspan font-size="16.0" dy="5.8">1</tspan></text>
<text transform="translate(1247 897.9) scale(0.87 1)" font-size="22.5" font-weight="bold" text-anchor="middle">A<tspan font-size="16.0" dy="5.8">2</tspan></text>
<text transform="translate(1293.6 897.9) scale(0.87 1)" font-size="22.5" font-weight="bold" text-anchor="middle">B<tspan font-size="16.0" dy="5.8">2</tspan></text>
<text transform="translate(1340.2 897.9) scale(0.87 1)" font-size="22.5" font-weight="bold" text-anchor="middle">C<tspan font-size="16.0" dy="5.8">2</tspan></text>
<text transform="translate(1386.8 897.9) scale(0.87 1)" font-size="22.5" font-weight="bold" text-anchor="middle">D<tspan font-size="16.0" dy="5.8">2</tspan></text>
<text transform="translate(1223.4 947) scale(0.818 1)" font-size="27.0" font-weight="bold" text-anchor="middle">Group</text>
<text transform="translate(985.4 709.85) rotate(-90) scale(1 0.88)" font-size="25.0" font-weight="bold" text-anchor="middle">Expression frequency</text>
<text transform="translate(1207.15 521.6) scale(0.835 1)" font-size="29.0" font-weight="normal" text-anchor="middle">G 1148 C</text>
<rect x="1342.8" y="553.4" width="18.7" height="16.7" fill="url(#pd)" stroke="#000" stroke-width="2.8"/>
<text transform="translate(1372.2 569.7) scale(0.8 1)" font-size="22.5" font-weight="normal" text-anchor="start">G/G</text>
<rect x="1342.6" y="578.2" width="19.1" height="17.1" fill="url(#pc)" stroke="#8a8a8a" stroke-width="2.4"/>
<text transform="translate(1372.2 594.3) scale(0.8 1)" font-size="22.5" font-weight="normal" text-anchor="start">G/C</text>
<rect x="1342.6" y="605.2" width="19.1" height="17.1" fill="url(#ps)" stroke="#646464" stroke-width="2.4"/>
<text transform="translate(1372.2 621.3) scale(0.8 1)" font-size="22.5" font-weight="normal" text-anchor="start">C/C</text>
<rect x="1529.4" y="662.9" width="31" height="6.64" fill="url(#pc)" stroke="#8a8a8a" stroke-width="2.4"/>
<rect x="1529.6" y="669.54" width="30.6" height="200.76" fill="url(#pd)" stroke="#000" stroke-width="2.8"/>
<path d="M1544.9 669.54V668.29M1536.65 668.29H1553.15" stroke="#000" stroke-width="2.8" fill="none"/>
<path d="M1544.9 662.9V659.58M1536.65 659.58H1553.15" stroke="#000" stroke-width="2.8" fill="none"/>
<rect x="1576" y="662.9" width="31" height="6.64" fill="url(#pc)" stroke="#8a8a8a" stroke-width="2.4"/>
<rect x="1576.2" y="669.54" width="30.6" height="200.76" fill="url(#pd)" stroke="#000" stroke-width="2.8"/>
<path d="M1591.5 669.54V665.8M1583.25 665.8H1599.75" stroke="#000" stroke-width="2.8" fill="none"/>
<path d="M1591.5 662.9V657.51M1583.25 657.51H1599.75" stroke="#000" stroke-width="2.8" fill="none"/>
<rect x="1622.6" y="662.9" width="31" height="177.95" fill="url(#pc)" stroke="#8a8a8a" stroke-width="2.4"/>
<rect x="1622.8" y="840.85" width="30.6" height="29.45" fill="url(#pd)" stroke="#000" stroke-width="2.8"/>
<path d="M1638.1 840.85V834.21M1629.85 834.21H1646.35" stroke="#000" stroke-width="2.8" fill="none"/>
<path d="M1638.1 662.9V655.64M1629.85 655.64H1646.35" stroke="#000" stroke-width="2.8" fill="none"/>
<rect x="1669.2" y="662.9" width="31" height="204.91" fill="url(#pc)" stroke="#8a8a8a" stroke-width="2.4"/>
<rect x="1669.4" y="867.81" width="30.6" height="2.49" fill="url(#pd)" stroke="#000" stroke-width="2.8"/>
<path d="M1684.7 867.81V866.57M1676.45 866.57H1692.95" stroke="#000" stroke-width="2.8" fill="none"/>
<path d="M1684.7 662.9V659.58M1676.45 659.58H1692.95" stroke="#000" stroke-width="2.8" fill="none"/>
<rect x="1715.8" y="662.9" width="31" height="83.79" fill="url(#ps)" stroke="#646464" stroke-width="2.4"/>
<rect x="1715.8" y="746.69" width="31" height="123.61" fill="url(#pc)" stroke="#8a8a8a" stroke-width="2.4"/>
<path d="M1731.3 746.69V736.32M1723.05 736.32H1739.55" stroke="#000" stroke-width="2.8" fill="none"/>
<path d="M1731.3 662.9V651.49M1723.05 651.49H1739.55" stroke="#000" stroke-width="2.8" fill="none"/>
<rect x="1762.4" y="662.9" width="31" height="30.07" fill="url(#ps)" stroke="#646464" stroke-width="2.4"/>
<rect x="1762.4" y="692.97" width="31" height="177.33" fill="url(#pc)" stroke="#8a8a8a" stroke-width="2.4"/>
<path d="M1777.9 692.97V686.34M1769.65 686.34H1786.15" stroke="#000" stroke-width="2.8" fill="none"/>
<path d="M1777.9 662.9V654.81M1769.65 654.81H1786.15" stroke="#000" stroke-width="2.8" fill="none"/>
<rect x="1809" y="662.9" width="31" height="144.77" fill="url(#ps)" stroke="#646464" stroke-width="2.4"/>
<rect x="1809" y="807.67" width="31" height="62.63" fill="url(#pc)" stroke="#8a8a8a" stroke-width="2.4"/>
<path d="M1824.5 807.67V795.01M1816.25 795.01H1832.75" stroke="#000" stroke-width="2.8" fill="none"/>
<path d="M1824.5 662.9V649.42M1816.25 649.42H1832.75" stroke="#000" stroke-width="2.8" fill="none"/>
<rect x="1855.6" y="662.9" width="31" height="207.4" fill="url(#ps)" stroke="#646464" stroke-width="2.4"/>
<path d="M1514.7 870.3H1894.2" stroke="#000" stroke-width="2.9" fill="none"/>
<path d="M1521.2 871.75V557.75" stroke="#000" stroke-width="2.9" fill="none"/>
<path d="M1514.7 766.6H1521.2" stroke="#000" stroke-width="2.9" fill="none"/>
<path d="M1514.7 662.9H1521.2" stroke="#000" stroke-width="2.9" fill="none"/>
<path d="M1514.7 559.2H1521.2" stroke="#000" stroke-width="2.9" fill="none"/>
<path d="M1544.9 870.3V878.3" stroke="#000" stroke-width="2.9" fill="none"/>
<path d="M1591.5 870.3V878.3" stroke="#000" stroke-width="2.9" fill="none"/>
<path d="M1638.1 870.3V878.3" stroke="#000" stroke-width="2.9" fill="none"/>
<path d="M1684.7 870.3V878.3" stroke="#000" stroke-width="2.9" fill="none"/>
<path d="M1731.3 870.3V878.3" stroke="#000" stroke-width="2.9" fill="none"/>
<path d="M1777.9 870.3V878.3" stroke="#000" stroke-width="2.9" fill="none"/>
<path d="M1824.5 870.3V878.3" stroke="#000" stroke-width="2.9" fill="none"/>
<path d="M1871.1 870.3V878.3" stroke="#000" stroke-width="2.9" fill="none"/>
<text transform="translate(1514.6 877.94) scale(0.835 1)" font-size="22.2" font-weight="bold" text-anchor="end">0</text>
<text transform="translate(1514.6 774.24) scale(0.835 1)" font-size="22.2" font-weight="bold" text-anchor="end">50</text>
<text transform="translate(1514.6 670.54) scale(0.835 1)" font-size="22.2" font-weight="bold" text-anchor="end">100</text>
<text transform="translate(1514.6 566.84) scale(0.835 1)" font-size="22.2" font-weight="bold" text-anchor="end">150</text>
<text transform="translate(1544.9 898.2) scale(0.87 1)" font-size="22.5" font-weight="bold" text-anchor="middle">A<tspan font-size="16.0" dy="5.8">1</tspan></text>
<text transform="translate(1591.5 898.2) scale(0.87 1)" font-size="22.5" font-weight="bold" text-anchor="middle">B<tspan font-size="16.0" dy="5.8">1</tspan></text>
<text transform="translate(1638.1 898.2) scale(0.87 1)" font-size="22.5" font-weight="bold" text-anchor="middle">C<tspan font-size="16.0" dy="5.8">1</tspan></text>
<text transform="translate(1684.7 898.2) scale(0.87 1)" font-size="22.5" font-weight="bold" text-anchor="middle">D<tspan font-size="16.0" dy="5.8">1</tspan></text>
<text transform="translate(1731.3 898.2) scale(0.87 1)" font-size="22.5" font-weight="bold" text-anchor="middle">A<tspan font-size="16.0" dy="5.8">2</tspan></text>
<text transform="translate(1777.9 898.2) scale(0.87 1)" font-size="22.5" font-weight="bold" text-anchor="middle">B<tspan font-size="16.0" dy="5.8">2</tspan></text>
<text transform="translate(1824.5 898.2) scale(0.87 1)" font-size="22.5" font-weight="bold" text-anchor="middle">C<tspan font-size="16.0" dy="5.8">2</tspan></text>
<text transform="translate(1871.1 898.2) scale(0.87 1)" font-size="22.5" font-weight="bold" text-anchor="middle">D<tspan font-size="16.0" dy="5.8">2</tspan></text>
<text transform="translate(1707.7 947.3) scale(0.818 1)" font-size="27.0" font-weight="bold" text-anchor="middle">Group</text>
<text transform="translate(1469.9 710.25) rotate(-90) scale(1 0.88)" font-size="25.0" font-weight="bold" text-anchor="middle">Expression frequency</text>
<text transform="translate(1691.65 523) scale(0.835 1)" font-size="29.0" font-weight="normal" text-anchor="middle">T 1149 A</text>
<rect x="1827.1" y="553.7" width="18.7" height="16.7" fill="url(#pd)" stroke="#000" stroke-width="2.8"/>
<text transform="translate(1856.5 570) scale(0.8 1)" font-size="22.5" font-weight="normal" text-anchor="start">T/T</text>
<rect x="1826.9" y="578.5" width="19.1" height="17.1" fill="url(#pc)" stroke="#8a8a8a" stroke-width="2.4"/>
<text transform="translate(1856.5 594.6) scale(0.8 1)" font-size="22.5" font-weight="normal" text-anchor="start">T/A</text>
<rect x="1826.9" y="605.5" width="19.1" height="17.1" fill="url(#ps)" stroke="#646464" stroke-width="2.4"/>
<text transform="translate(1856.5 621.6) scale(0.8 1)" font-size="22.5" font-weight="normal" text-anchor="start">A/A</text>
</svg>
</body></html>
